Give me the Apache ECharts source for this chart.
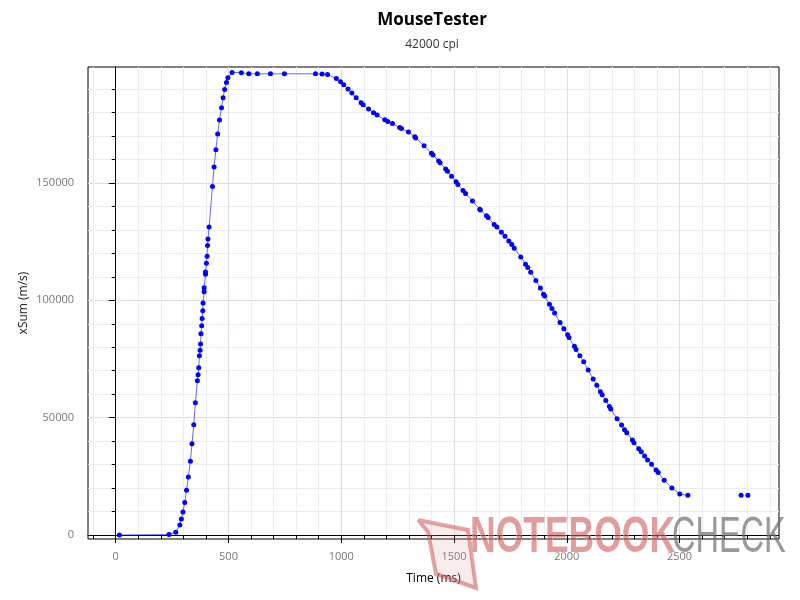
<!DOCTYPE html>
<html><head><meta charset="utf-8">
<script src="https://cdn.jsdelivr.net/npm/echarts@6/dist/echarts.min.js"></script>
<style>html,body{margin:0;padding:0;background:#fff}#c{width:800px;height:600px}</style>
</head><body><div id="c"></div>
<script>
const timeMs = [16,236,266,284,291,298,306,314,322,331,338,346,353,362,365,368,371,374,376,378,381,383,386,387,392,392,398,398,402,405,407,409,414,429,436,444,452,460,469,476,483,491,497,516,557,590,628,686,748,886,915,939,978,997,1011,1030,1047,1066,1088,1097,1121,1143,1159,1193,1206,1227,1259,1267,1298,1326,1330,1367,1400,1407,1432,1438,1463,1471,1489,1509,1517,1540,1551,1582,1614,1617,1644,1651,1678,1690,1710,1726,1743,1756,1767,1796,1817,1827,1840,1863,1883,1897,1902,1923,1934,1946,1970,1987,2004,2010,2034,2041,2058,2075,2095,2117,2133,2149,2157,2173,2189,2195,2223,2243,2256,2266,2291,2298,2319,2330,2345,2358,2376,2396,2405,2432,2466,2501,2537];
const xSum = [0,200,1200,4300,6800,9800,13900,19100,24700,31400,38900,47000,56300,65700,68300,71300,76400,78700,81400,85700,89200,92200,95600,98800,103600,105400,111100,112100,115800,118800,123300,126100,131200,148500,156800,164100,170900,176800,182000,186300,189800,192800,194800,197100,197000,196500,196500,196500,196500,196500,196400,196200,194500,193100,191800,190000,188300,186300,184200,183300,181500,179900,178900,176900,176200,175300,173600,173200,171700,169700,169200,165800,162700,161900,159400,158600,155900,155000,152900,150500,149300,146800,145500,142300,138800,138500,136000,135300,132300,131200,129000,127300,125300,123800,122200,118500,115400,114000,112000,108400,105200,102600,101800,98300,96500,94600,90500,87900,85300,84100,80400,79000,76400,73800,70300,66500,63800,61000,59800,57300,54700,53700,49500,46900,44900,43600,40500,39300,36800,35500,33700,32000,30100,27700,26600,23300,20000,17500,16900];
const tailTimeMs = [2773, 2803];
const tailXSum = [16900, 16900];

const xMajorTicks = [0, 500, 1000, 1500, 2000, 2500];
const xMinorTicks = [-100,0,100,200,300,400,500,600,700,800,900,1000,1100,1200,1300,1400,1500,1600,1700,1800,1900,2000,2100,2200,2300,2400,2500,2600,2700,2800,2900];
const yMajorTicks = [0, 50000, 100000, 150000];
const yMinorTicks = [0,10000,20000,30000,40000,50000,60000,70000,80000,90000,100000,110000,120000,130000,140000,150000,160000,170000,180000,190000];

const X_MIN = -123, X_MAX = 2941, Y_MIN = -1700, Y_MAX = 199400;
const FONT = '"Open Sans", "Noto Sans", sans-serif';

const chart = echarts.init(document.getElementById('c'), null, {renderer: 'canvas'});

function pairs(xs, ys) { return xs.map((x, i) => [x, ys[i]]); }
const plain = v => String(v);

const lineStyle = {color: 'rgba(40,40,255,0.7)', width: 1};
const itemStyle = {color: '#0000ff'};

const opt = {
  animation: false,
  backgroundColor: '#fff',
  textStyle: {fontFamily: FONT},
  title: [
    {text: 'MouseTester', left: 427, top: 7, textAlign: 'center',
     textStyle: {fontFamily: FONT, fontSize: 17, fontWeight: 'bold', color: '#000'}},
    {text: '42000 cpi', left: 427, top: 34, textAlign: 'center',
     textStyle: {fontFamily: FONT, fontSize: 12, fontWeight: 'normal', color: '#333'}}
  ],
  grid: {left: 88, right: 21, top: 67, bottom: 61, show: true, borderColor: '#000', borderWidth: 1, backgroundColor: '#fff'},
  xAxis: [
    {type: 'value', min: X_MIN, max: X_MAX, position: 'bottom',
     axisLine: {show: false},
     axisTick: {show: true, customValues: xMinorTicks, length: 4, lineStyle: {color: '#000'}},
     axisLabel: {show: false},
     splitLine: {show: true, lineStyle: {color: '#ececf3', width: 1}}},
    {type: 'value', min: X_MIN, max: X_MAX, position: 'bottom',
     name: 'Time (ms)', nameLocation: 'middle', nameGap: 34, nameMoveOverlap: false,
     nameTextStyle: {fontFamily: FONT, fontSize: 12, color: '#000'},
     axisLine: {show: true, lineStyle: {color: '#000', width: 1}},
     axisTick: {show: true, customValues: xMajorTicks, length: 8, lineStyle: {color: '#000'}},
     axisLabel: {show: true, customValues: xMajorTicks, formatter: plain, margin: 12, fontFamily: FONT, fontSize: 11, color: '#777'},
     splitLine: {show: true, lineStyle: {color: '#dcdce8', width: 1}}}
  ],
  yAxis: [
    {type: 'value', min: Y_MIN, max: Y_MAX, position: 'left',
     axisLine: {show: false},
     axisTick: {show: true, customValues: yMinorTicks, length: 4, lineStyle: {color: '#000'}},
     axisLabel: {show: false},
     splitLine: {show: true, lineStyle: {color: '#ececf3', width: 1}}},
    {type: 'value', min: Y_MIN, max: Y_MAX, position: 'left',
     name: 'xSum (m/s)', nameLocation: 'middle', nameGap: 58, nameRotate: 90, nameMoveOverlap: false,
     nameTextStyle: {fontFamily: FONT, fontSize: 12, color: '#222'},
     axisLine: {show: true, lineStyle: {color: '#000', width: 1}},
     axisTick: {show: true, customValues: yMajorTicks, length: 7, lineStyle: {color: '#000'}},
     axisLabel: {show: true, customValues: yMajorTicks, formatter: plain, margin: 14, fontFamily: FONT, fontSize: 11, color: '#777'},
     splitLine: {show: true, lineStyle: {color: '#dcdce8', width: 1}}}
  ],
  series: [
    {type: 'line', xAxisIndex: 1, yAxisIndex: 1, data: pairs(timeMs, xSum),
     symbol: 'circle', symbolSize: 5, showSymbol: true, lineStyle: lineStyle, itemStyle: itemStyle, z: 5},
    {type: 'line', xAxisIndex: 1, yAxisIndex: 1, data: pairs(tailTimeMs, tailXSum),
     symbol: 'circle', symbolSize: 5, showSymbol: true, lineStyle: {width: 0, opacity: 0}, itemStyle: itemStyle, z: 5}
  ],
  graphic: [
    {type: 'polyline', z: 99, silent: true,
     shape: {points: [[418, 520], [468, 530], [476, 588], [436, 574], [428, 532], [418, 520]]},
     style: {fill: 'rgba(220,150,150,0.18)', stroke: 'rgba(205,90,90,0.55)', lineWidth: 4}},
    {type: 'text', x: 470, y: 513, scaleX: 0.71, z: 100, silent: true,
     style: {text: 'NOTEBOOK', x: 0, y: 0, verticalAlign: 'top', font: 'bold 50px "Liberation Sans", "DejaVu Sans", sans-serif',
             fill: 'rgba(205,90,90,0.6)', stroke: 'rgba(255,255,255,0.6)', lineWidth: 1}},
    {type: 'text', x: 672, y: 513, scaleX: 0.65, z: 100, silent: true,
     style: {text: 'CHECK', x: 0, y: 0, verticalAlign: 'top', font: '50px "Liberation Sans", "DejaVu Sans", sans-serif',
             fill: 'rgba(110,110,110,0.7)'}}
  ]
};
chart.setOption(opt);
</script>
</body></html>
